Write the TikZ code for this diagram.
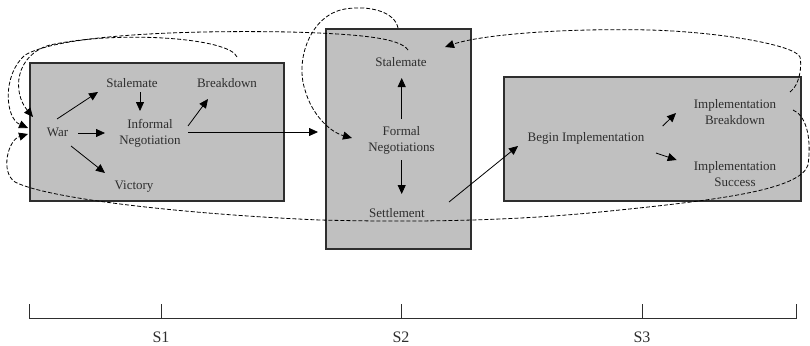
\documentclass[tikz,border=0pt]{standalone}
\usepackage{fontspec}
\setmainfont{Liberation Serif}
\usetikzlibrary{arrows.meta,calc}
\definecolor{boxgray}{HTML}{C0C0C0}
\definecolor{ink}{HTML}{2E2E2E}
\begin{document}
\begin{tikzpicture}[x=1pt,y=-1pt,
  stagebox/.style={draw=ink,line width=1.1pt,fill=boxgray,inner sep=0pt,outer sep=0pt},
  lbl/.style={text=ink,font=\fontsize{13}{16}\selectfont,align=center,inner sep=0pt},
  tick/.style={text=ink,font=\fontsize{16}{18}\selectfont,inner sep=0pt},
  arr/.style={draw=black,line width=0.8pt,-{Triangle[length=9pt,width=8pt]}},
  loopback/.style={draw=black,line width=0.8pt,dash pattern=on 4pt off 2pt},
  loopin/.style={loopback,-{Triangle[length=9pt,width=8pt]}}]
\useasboundingbox (0,0) rectangle (810,345);
% stage boxes
\node[stagebox,minimum width=254pt,minimum height=138pt] (b1) at (157,132) {};
\node[stagebox,minimum width=145pt,minimum height=220pt] (b2) at (398.5,139) {};
\node[stagebox,minimum width=297pt,minimum height=124pt] (b3) at (652.5,139) {};
% labels
\node[lbl] (war) at (57.5,132) {War};
\node[lbl] (st1) at (132,83) {Stalemate};
\node[lbl] (bd1) at (227,83) {Breakdown};
\node[lbl] (inf) at (150,133) {Informal\\Negotiation};
\node[lbl] (vic) at (134,187) {Victory};
\node[lbl] (st2) at (401,62) {Stalemate};
\node[lbl] (fn) at (401.5,140) {Formal\\Negotiations};
\node[lbl] (set) at (397,213) {Settlement};
\node[lbl] (bi) at (586,138) {Begin Implementation};
\node[lbl] (ib) at (735,112) {Implementation\\Breakdown};
\node[lbl] (is) at (735,174) {Implementation\\Success};
% solid arrows
\draw[arr] ($(war)+(-0.5,-13)$) -- ($(st1)+(-34,9)$);
\draw[arr] ($(war)+(20.5,1)$) -- ($(inf)+(-45,0)$);
\draw[arr] ($(war)+(13.5,14)$) -- ($(vic)+(-29,-14)$);
\draw[arr] ($(st1)+(8,9)$) -- ($(inf)+(-10,-22)$);
\draw[arr] ($(inf)+(38,-7)$) -- ($(bd1)+(-19,16)$);
\draw[arr] ($(inf)+(38,-1)$) -- ($(fn)+(-83.5,-8)$);
\draw[arr] ($(fn)+(0.2,-21)$) -- ($(st2)+(0.7,16)$);
\draw[arr] ($(fn)+(0.2,20)$) -- ($(set)+(4.7,-19)$);
\draw[arr] ($(set)+(52,-11)$) -- ($(bi)+(-68,8)$);
\draw[arr] ($(bi)+(76.7,-12)$) -- ($(ib)+(-59,1)$);
\draw[arr] ($(bi)+(70,15)$) -- ($(is)+(-58.3,-14)$);
% dashed feedback loops
\draw[loopin] ($(bd1)+(10,-26)$) .. controls (230,38) and (120,30) .. (50,45)
  .. controls (15,55) and (12,92) .. ($(war)+(-24.5,-15)$);
\draw[loopin] ($(st2)+(7,-12)$) .. controls (400,38) and (360,34) .. (290,32)
  .. controls (180,30) and (60,35) .. (25,55)
  .. controls (2,75) and (5,118) .. ($(war)+(-29.5,-4)$);
\draw[loopin] ($(ib)+(58,-2)$) .. controls (805,115) and (812,135) .. (808,165)
  .. controls (800,190) and (720,200) .. (600,212)
  .. controls (500,222) and (400,222) .. (320,220)
  .. controls (200,215) and (50,200) .. (15,182)
  .. controls (0,172) and (8,140) .. ($(war)+(-29.5,2)$);
\draw[loopin] ($(st2)+(-3,-34)$) .. controls (395,12) and (370,5) .. (345,9)
  .. controls (310,15) and (295,60) .. (305,90)
  .. controls (312,115) and (330,132) .. ($(fn)+(-49.5,-2)$);
\draw[loopin] ($(ib)+(55,-20)$) .. controls (800,85) and (802,65) .. (800,57)
  .. controls (795,45) and (720,32) .. (650,30)
  .. controls (560,28) and (480,35) .. ($(st2)+(44,-15)$);
% time axis
\draw[draw=ink,line width=0.8pt] (29,304) -- (29,318) -- (796,318) -- (796,304);
\draw[draw=ink,line width=0.8pt] (161,304) -- (161,318);
\draw[draw=ink,line width=0.8pt] (401,304) -- (401,318);
\draw[draw=ink,line width=0.8pt] (642,304) -- (642,318);
\node[tick] (s1) at (161,337) {S1};
\node[tick] (s2) at (401,337) {S2};
\node[tick] (s3) at (642,337) {S3};
\end{tikzpicture}
\end{document}
